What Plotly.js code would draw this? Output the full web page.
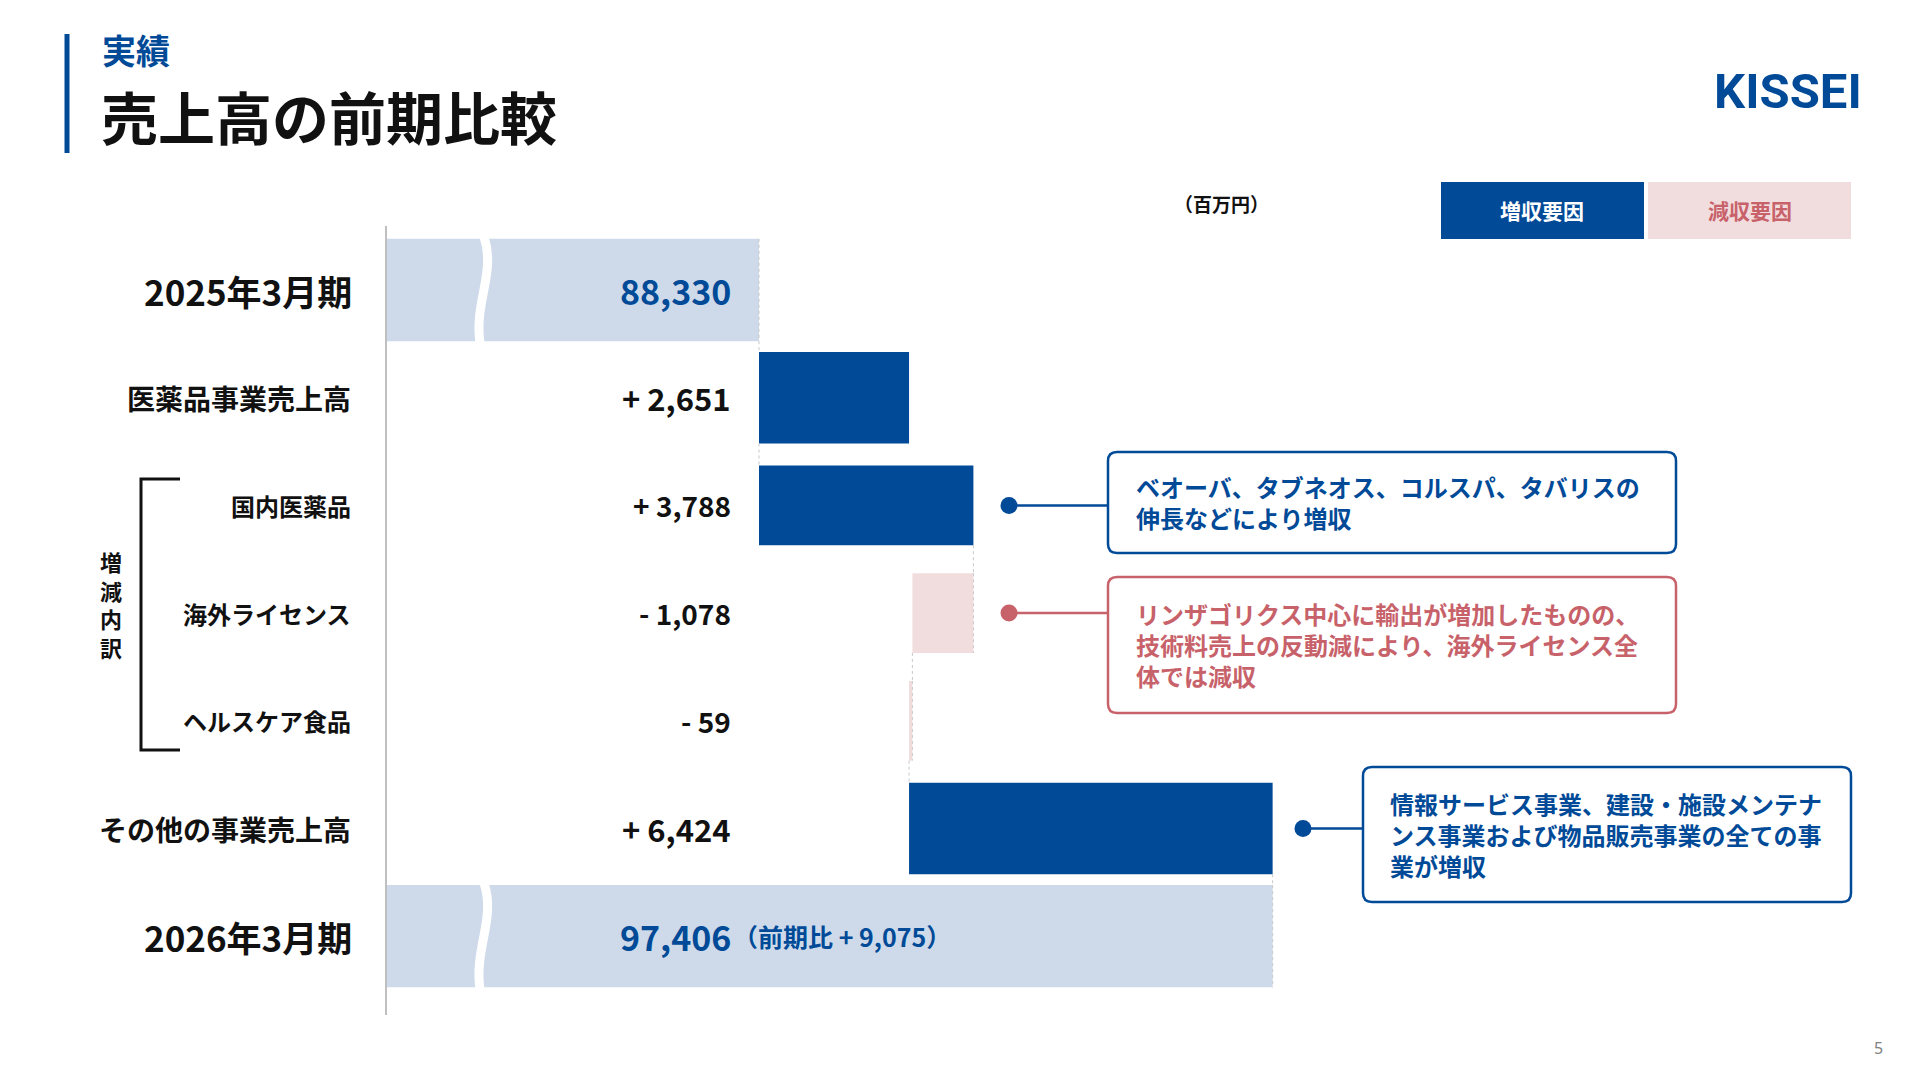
<!DOCTYPE html>
<html><head><meta charset="utf-8">
<script src="https://cdn.plot.ly/plotly-3.0.1.min.js"></script>
<style>html,body{margin:0;padding:0;background:#fff;} #chart{width:1920px;height:1080px;}</style>
</head><body><div id="chart"></div>
<script>
// ---------------- data ----------------
const categories = ['2025年3月期','医薬品事業売上高','国内医薬品','海外ライセンス','ヘルスケア食品','その他の事業売上高','2026年3月期'];
const amounts = [88330, 2651, 3788, -1078, -59, 6424, 97406];
const rowKinds = ['total','main','sub','sub','sub','main','total'];
const valueLabels = ['88,330','+ 2,651','+ 3,788','- 1,078','- 59','+ 6,424','97,406'];
const yoyLabel = '（前期比 + 9,075）';
const legendLabels = ['増収要因','減収要因'];
const unitLabel = '（百万円）';
const groupLabel = ['増','減','内','訳'];
const noteRows = ['国内医薬品','海外ライセンス','その他の事業売上高'];
const noteTexts = [
  'ベオーバ、タブネオス、コルスパ、タバリスの<br>伸長などにより増収',
  'リンザゴリクス中心に輸出が増加したものの、<br>技術料売上の反動減により、海外ライセンス全<br>体では減収',
  '情報サービス事業、建設・施設メンテナ<br>ンス事業および物品販売事業の全ての事<br>業が増収'
];
const headerSub = '実績';
const headerTitle = '売上高の前期比較';
const logoText = 'KISSEI';
const pageNo = '5';

(function () {
// ---------------- style / geometry ----------------
const W = 1920, H = 1080;
const BLUE = '#004A98', LIGHT = '#CEDAE9', PINK = '#F2DDDE', RED = '#C8626A', GRAY = '#BFBFBF';
const FONT = '"Noto Sans CJK JP", "Noto Sans", sans-serif';
const AXIS_PX = 386, FIRST_END_PX = 759, PX_PER_UNIT = 0.0566;
const ROW0_PX = 290, ROW_STEP_PX = 107.7;
const kindWidth = {total: 0.95, main: 0.85, sub: 0.74};
const kindLabelSize = {total: 35, main: 28, sub: 24};
const kindValueSize = {total: 34, main: 31, sub: 28};

const X = x => x / W, Y = y => 1 - y / H;
const axisStart = amounts[0] - (FIRST_END_PX - AXIS_PX) / PX_PER_UNIT;
const xRange = [axisStart - AXIS_PX / PX_PER_UNIT, axisStart + (W - AXIS_PX) / PX_PER_UNIT];
const yRange = [(H - ROW0_PX) / ROW_STEP_PX, -ROW0_PX / ROW_STEP_PX];

// waterfall bases
const bases = [], ends = [];
let mainRun = amounts[0], subRun = amounts[0];
rowKinds.forEach((k, i) => {
  const v = amounts[i];
  if (k === 'total') { bases.push(axisStart); ends.push(v); }
  else if (k === 'main') { bases.push(mainRun); subRun = mainRun; mainRun += v; ends.push(mainRun); }
  else { bases.push(subRun); subRun += v; ends.push(subRun); }
});
const xs = amounts.map((v, i) => rowKinds[i] === 'total' ? v - axisStart : v);
const widths = rowKinds.map(k => kindWidth[k]);
const colors = amounts.map((v, i) => rowKinds[i] === 'total' ? LIGHT : (v >= 0 ? BLUE : PINK));

const trace = {
  type: 'bar', orientation: 'h', y: categories, x: xs, base: bases, width: widths,
  marker: {color: colors, line: {width: 0}}, hoverinfo: 'skip', textposition: 'none'
};

const shapes = [];
const annotations = [];

// axis line
shapes.push({type: 'line', xref: 'paper', yref: 'paper', x0: X(AXIS_PX), x1: X(AXIS_PX), y0: Y(226), y1: Y(1015), line: {color: GRAY, width: 2}});

// connectors (dashed)
const rowTop = i => i - widths[i] / 2, rowBot = i => i + widths[i] / 2;
const dash = (x, y0, y1) => shapes.push({type: 'line', xref: 'x', yref: 'y', x0: x, x1: x, y0: y0, y1: y1, line: {color: '#C8C8C8', width: 1, dash: 'dot'}, layer: 'above'});
for (let i = 0; i < categories.length - 1; i++) {
  const xc = rowKinds[i + 1] === 'total' ? ends[i] : bases[i + 1];
  dash(xc, rowBot(i), rowTop(i + 1));
}
dash(ends[0], rowTop(0), rowBot(0));
dash(ends[6], rowTop(6), rowBot(6));
dash(bases[3], rowTop(3), rowBot(3));
dash(bases[4], rowTop(4), rowBot(4));

// axis-break marks on total bars
rowKinds.forEach((k, i) => {
  if (k !== 'total') return;
  const c = ROW0_PX + i * ROW_STEP_PX, h = widths[i] * ROW_STEP_PX;
  const t = c - h / 2 - 2, b = c + h / 2 + 2;
  shapes.push({type: 'path', xref: 'paper', yref: 'paper', layer: 'above',
    path: `M${X(484)},${Y(t)} C${X(496)},${Y(t + h * 0.35)} ${X(474)},${Y(b - h * 0.4)} ${X(480)},${Y(b)}`,
    line: {color: '#FFFFFF', width: 9}});
});

// row labels and values
categories.forEach((c, i) => {
  const k = rowKinds[i];
  annotations.push({xref: 'paper', yref: 'y', x: X(k === 'total' ? 354 : 353), y: i, xanchor: 'right', yanchor: 'middle',
    text: '<b>' + c + '</b>', showarrow: false, font: {family: FONT, size: kindLabelSize[k], color: '#111'}});
  annotations.push({xref: 'paper', yref: 'y', x: X(733), y: i, xanchor: 'right', yanchor: 'middle',
    text: '<b>' + valueLabels[i] + '</b>', showarrow: false,
    font: {family: FONT, size: kindValueSize[k], color: k === 'total' ? BLUE : '#111'}});
});
annotations.push({xref: 'paper', yref: 'y', x: X(731), y: categories.length - 1, xanchor: 'left', yanchor: 'middle',
  text: '<b>' + yoyLabel + '</b>', showarrow: false, font: {family: FONT, size: 25, color: BLUE}});

// bracket + group label (vertical text)
shapes.push({type: 'path', xref: 'paper', yref: 'paper',
  path: `M${X(180)},${Y(479)} L${X(141)},${Y(479)} L${X(141)},${Y(750)} L${X(180)},${Y(750)}`,
  line: {color: '#111', width: 3}});
annotations.push({xref: 'paper', yref: 'paper', x: X(111), y: Y(604), xanchor: 'center', yanchor: 'middle',
  text: '<b>' + groupLabel.join('<br>') + '</b>', showarrow: false, font: {family: FONT, size: 22, color: '#111'}});

// callouts
const rr = (x0, y0, x1, y1, r) => `M${X(x0 + r)},${Y(y0)} L${X(x1 - r)},${Y(y0)} Q${X(x1)},${Y(y0)} ${X(x1)},${Y(y0 + r)} L${X(x1)},${Y(y1 - r)} Q${X(x1)},${Y(y1)} ${X(x1 - r)},${Y(y1)} L${X(x0 + r)},${Y(y1)} Q${X(x0)},${Y(y1)} ${X(x0)},${Y(y1 - r)} L${X(x0)},${Y(y0 + r)} Q${X(x0)},${Y(y0)} ${X(x0 + r)},${Y(y0)} Z`;
const boxes = [
  {x0: 1108, y0: 452, x1: 1676, y1: 553, dot: 1009, tx: 1134, ty: 502, color: BLUE},
  {x0: 1108, y0: 577, x1: 1676, y1: 713, dot: 1009, tx: 1134, ty: 644, color: RED},
  {x0: 1363, y0: 767, x1: 1851, y1: 902, dot: 1303, tx: 1388, ty: 834, color: BLUE}
];
boxes.forEach((b, j) => {
  const ri = categories.indexOf(noteRows[j]);
  shapes.push({type: 'path', xref: 'paper', yref: 'paper', path: rr(b.x0, b.y0, b.x1, b.y1, 9),
    line: {color: b.color, width: 2.5}, fillcolor: '#FFFFFF'});
  shapes.push({type: 'line', xref: 'paper', yref: 'y', x0: X(b.dot), x1: X(b.x0), y0: ri, y1: ri, line: {color: b.color, width: 2.5}});
  shapes.push({type: 'circle', xref: 'paper', yref: 'y', ysizemode: 'pixel', yanchor: ri, y0: -8.5, y1: 8.5,
    x0: X(b.dot - 8.5), x1: X(b.dot + 8.5), fillcolor: b.color, line: {width: 0}});
  annotations.push({xref: 'paper', yref: 'paper', x: X(b.tx), y: Y(b.ty), xanchor: 'left', yanchor: 'middle', align: 'left',
    text: '<b>' + noteTexts[j] + '</b>', showarrow: false, font: {family: FONT, size: 24, color: b.color}});
});

// legend boxes
shapes.push({type: 'rect', xref: 'paper', yref: 'paper', x0: X(1441), x1: X(1644), y0: Y(182), y1: Y(239), fillcolor: BLUE, line: {width: 0}});
shapes.push({type: 'rect', xref: 'paper', yref: 'paper', x0: X(1648), x1: X(1851), y0: Y(182), y1: Y(239), fillcolor: PINK, line: {width: 0}});
annotations.push({xref: 'paper', yref: 'paper', x: X(1542), y: Y(210), xanchor: 'center', yanchor: 'middle',
  text: '<b>' + legendLabels[0] + '</b>', showarrow: false, font: {family: FONT, size: 21, color: '#FFFFFF'}});
annotations.push({xref: 'paper', yref: 'paper', x: X(1750), y: Y(210), xanchor: 'center', yanchor: 'middle',
  text: '<b>' + legendLabels[1] + '</b>', showarrow: false, font: {family: FONT, size: 21, color: RED}});
annotations.push({xref: 'paper', yref: 'paper', x: X(1221), y: Y(203), xanchor: 'center', yanchor: 'middle',
  text: '<b>' + unitLabel + '</b>', showarrow: false, font: {family: FONT, size: 19, color: '#111'}});

// header
shapes.push({type: 'line', xref: 'paper', yref: 'paper', x0: X(67), x1: X(67), y0: Y(34), y1: Y(153), line: {color: BLUE, width: 5}});
annotations.push({xref: 'paper', yref: 'paper', x: X(100), y: Y(50), xanchor: 'left', yanchor: 'middle',
  text: '<b>' + headerSub + '</b>', showarrow: false, font: {family: FONT, size: 34, color: BLUE}});
annotations.push({xref: 'paper', yref: 'paper', x: X(99), y: Y(115), xanchor: 'left', yanchor: 'middle',
  text: '<b>' + headerTitle + '</b>', showarrow: false, font: {family: FONT, size: 57, color: '#111'}});
annotations.push({xref: 'paper', yref: 'paper', x: X(1864), y: Y(92), xanchor: 'right', yanchor: 'middle',
  text: '<b>' + logoText + '</b>', showarrow: false, font: {family: 'Roboto, "Liberation Sans", sans-serif', size: 49, color: BLUE}});
annotations.push({xref: 'paper', yref: 'paper', x: X(1878), y: Y(1048), xanchor: 'center', yanchor: 'middle',
  text: pageNo, showarrow: false, font: {family: '"Noto Sans", sans-serif', size: 16, color: '#808080'}});

const layout = {
  width: W, height: H, margin: {l: 0, r: 0, t: 0, b: 0, pad: 0},
  paper_bgcolor: '#FFFFFF', plot_bgcolor: 'rgba(0,0,0,0)', showlegend: false, hovermode: false,
  font: {family: FONT},
  xaxis: {range: xRange, visible: false, fixedrange: true},
  yaxis: {type: 'category', categoryorder: 'array', categoryarray: categories, range: yRange, autorange: false, visible: false, fixedrange: true},
  shapes: shapes, annotations: annotations
};
Plotly.newPlot('chart', [trace], layout, {staticPlot: true, displayModeBar: false});
})();
</script>
</body></html>
